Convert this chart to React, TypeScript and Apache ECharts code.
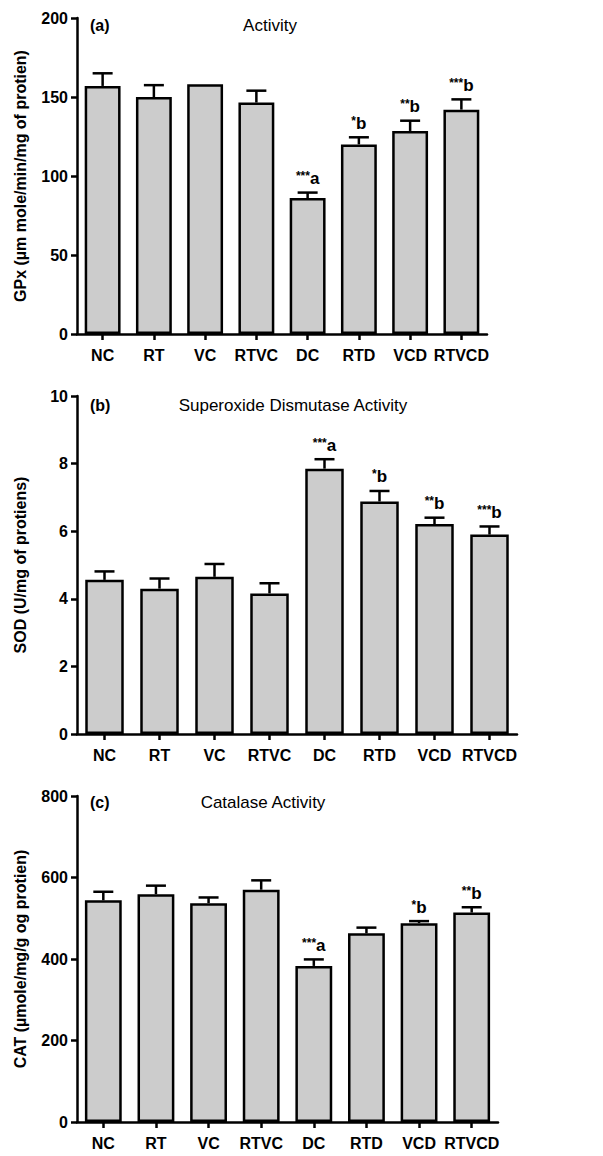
import React, { useEffect, useRef } from "react";
import * as echarts from "echarts";

const categories = ["NC", "RT", "VC", "RTVC", "DC", "RTD", "VCD", "RTVCD"];

const gpxMean = [157, 150, 158, 146.5, 86, 120, 128.5, 142];
const gpxSem = [8, 7.5, 0, 7.5, 3.5, 4.5, 6.5, 6.5];
const gpxSig = ["", "", "", "", "***a", "*b", "**b", "***b"];

const sodMean = [4.56, 4.3, 4.65, 4.16, 7.85, 6.88, 6.21, 5.9];
const sodSem = [0.25, 0.3, 0.38, 0.3, 0.28, 0.31, 0.19, 0.24];
const sodSig = ["", "", "", "", "***a", "*b", "**b", "***b"];

const catMean = [544, 559, 537, 570, 383, 463, 488, 514];
const catSem = [21, 21, 14, 23, 16, 14, 5, 13];
const catSig = ["", "", "", "", "***a", "", "*b", "**b"];

const FONT = "'Liberation Sans', Arial, sans-serif";

type Panel = {
  mean: number[];
  sem: number[];
  sig: string[];
  max: number;
  interval: number;
  yName: string;
  grid: { left: number; top: number; width: number; height: number };
};

const panels: Panel[] = [
  {
    mean: gpxMean,
    sem: gpxSem,
    sig: gpxSig,
    max: 200,
    interval: 50,
    yName: "GPx (µm mole/min/mg of protien)",
    grid: { left: 77, top: 18, width: 410, height: 316 },
  },
  {
    mean: sodMean,
    sem: sodSem,
    sig: sodSig,
    max: 10,
    interval: 2,
    yName: "SOD (U/mg of protiens)",
    grid: { left: 77, top: 396, width: 440, height: 338 },
  },
  {
    mean: catMean,
    sem: catSem,
    sig: catSig,
    max: 800,
    interval: 200,
    yName: "CAT (µmole/mg/g og protien)",
    grid: { left: 77, top: 796, width: 421, height: 326 },
  },
];

const panelTitles = [
  { tag: "(a)", title: "Activity", tx: 270, y: 25 },
  { tag: "(b)", title: "Superoxide Dismutase Activity", tx: 293, y: 405 },
  { tag: "(c)", title: "Catalase Activity", tx: 263, y: 802 },
];

export default function App() {
  const ref = useRef<HTMLDivElement>(null);

  useEffect(() => {
    document.body.style.margin = "0";
    if (!ref.current) return;
    const chart = echarts.init(ref.current, undefined, { renderer: "svg" });

    const grids: any[] = [];
    const xAxes: any[] = [];
    const yAxes: any[] = [];
    const series: any[] = [];

    panels.forEach((p, gi) => {
      grids.push({ ...p.grid, containLabel: false });
      xAxes.push({
        type: "category",
        gridIndex: gi,
        data: categories,
        boundaryGap: true,
        axisLine: { show: true, lineStyle: { color: "#000", width: 2.5 } },
        axisTick: { show: true, alignWithLabel: true, length: 6, lineStyle: { color: "#000", width: 2.5 } },
        axisLabel: {
          color: "#000",
          fontFamily: FONT,
          fontWeight: "bold",
          fontSize: 16,
          margin: 13,
          interval: 0,
        },
        splitLine: { show: false },
      });
      yAxes.push({
        type: "value",
        gridIndex: gi,
        min: 0,
        max: p.max,
        interval: p.interval,
        name: p.yName,
        nameLocation: "middle",
        nameGap: 49,
        nameTextStyle: { color: "#000", fontFamily: FONT, fontWeight: "bold", fontSize: 16 },
        axisLine: { show: true, lineStyle: { color: "#000", width: 2.5 } },
        axisTick: { show: true, length: 6, lineStyle: { color: "#000", width: 2.5 } },
        axisLabel: { color: "#000", fontFamily: FONT, fontWeight: "bold", fontSize: 16, margin: 9 },
        splitLine: { show: false },
      });
      series.push({
        type: "bar",
        xAxisIndex: gi,
        yAxisIndex: gi,
        data: p.mean,
        barWidth: "70%",
        itemStyle: { color: "#cccccc", borderColor: "#000", borderWidth: 2.5 },
        z: 2,
      });
      const sig = p.sig;
      series.push({
        type: "custom",
        xAxisIndex: gi,
        yAxisIndex: gi,
        z: 3,
        data: p.mean.map((m, i) => [i, m, p.sem[i]]),
        renderItem: (params: any, api: any) => {
          const i = api.value(0);
          const mean = api.value(1);
          const sem = api.value(2);
          const top = api.coord([i, mean + sem]);
          const base = api.coord([i, mean]);
          const children: any[] = [];
          const st = { stroke: "#000", lineWidth: 2.5 };
          if (sem > 0) {
            children.push({ type: "line", shape: { x1: top[0], y1: base[1], x2: top[0], y2: top[1] }, style: st });
            children.push({ type: "line", shape: { x1: top[0] - 10, y1: top[1], x2: top[0] + 10, y2: top[1] }, style: st });
          }
          const s = sig[i];
          if (s) {
            const stars = s.replace(/[a-z]/g, "");
            const letter = s.replace(/\*/g, "");
            children.push({
              type: "text",
              x: top[0],
              y: top[1] - 14,
              style: {
                text: `{s|${stars}}{l|${letter}}`,
                fill: "#000",
                align: "center",
                verticalAlign: "middle",
                rich: {
                  s: { fontFamily: FONT, fontWeight: "bold", fontSize: 12, fill: "#000", verticalAlign: "top", lineHeight: 17 },
                  l: { fontFamily: FONT, fontWeight: "bold", fontSize: 17, fill: "#000", lineHeight: 17 },
                },
              },
            });
          }
          return { type: "group", children };
        },
      });
    });

    const graphics: any[] = [];
    panelTitles.forEach((t) => {
      graphics.push({
        type: "text",
        x: 90,
        y: t.y,
        style: { text: t.tag, fontFamily: FONT, fontWeight: "bold", fontSize: 16, fill: "#000", align: "left", verticalAlign: "middle" },
      });
      graphics.push({
        type: "text",
        x: t.tx,
        y: t.y,
        style: { text: t.title, fontFamily: FONT, fontSize: 17, fill: "#000", align: "center", verticalAlign: "middle" },
      });
    });

    chart.setOption({
      animation: false,
      backgroundColor: "#fff",
      grid: grids,
      xAxis: xAxes,
      yAxis: yAxes,
      series,
      graphic: graphics,
    });

    return () => chart.dispose();
  }, []);

  return <div ref={ref} style={{ width: 603, height: 1156 }} />;
}
